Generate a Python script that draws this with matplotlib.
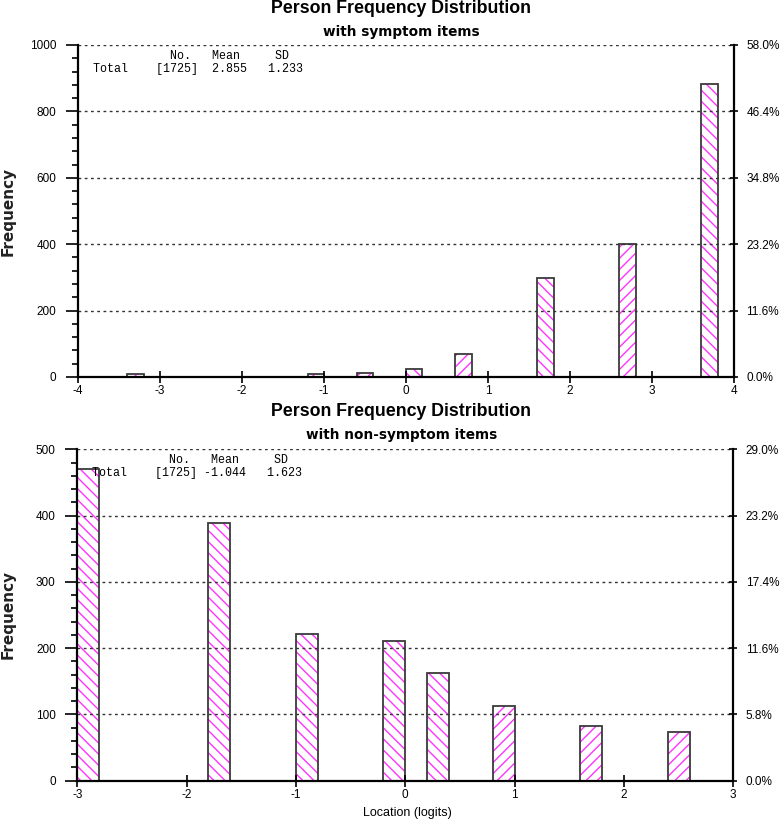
import matplotlib.pyplot as plt
from matplotlib.ticker import MultipleLocator

total = 1725

# person locations (bin centres, logits) and frequencies, with symptom items
symptom_loc = [-3.3, -1.1, -0.5, 0.1, 0.7, 1.7, 2.7, 3.7]
symptom_freq = [8, 8, 12, 25, 68, 297, 402, 884]
symptom_mean = "2.855"
symptom_sd = "1.233"

# with non-symptom items
nonsymptom_loc = [-2.9, -1.7, -0.9, -0.1, 0.3, 0.9, 1.7, 2.5]
nonsymptom_freq = [471, 389, 222, 211, 162, 113, 83, 74]
nonsymptom_mean = "-1.044"
nonsymptom_sd = "1.623"

plt.rcParams['font.family'] = ['Liberation Sans', 'DejaVu Sans']
plt.rcParams['hatch.linewidth'] = 1.0
plt.rcParams['axes.unicode_minus'] = False

PINK = '#ff33ff'
EDGE = '#3a3a3a'


def draw_panel(ax, loc, freq, hatches, xlim, ymax, ystep, mean, sd):
    bars = ax.bar(loc, freq, width=0.2, color='white', edgecolor=PINK, linewidth=0)
    for b, h in zip(bars, hatches):
        b.set_hatch(h * 3)
    ax.bar(loc, freq, width=0.2, fill=False, edgecolor=EDGE, linewidth=1.3)

    ax.set_xlim(xlim)
    ax.set_ylim(0, ymax)
    ax.xaxis.set_major_locator(MultipleLocator(1))
    ax.yaxis.set_major_locator(MultipleLocator(ystep))
    ax.yaxis.set_minor_locator(MultipleLocator(ystep / 5))
    ax.grid(axis='y', linestyle=(0, (2, 2.5)), color='#333333', linewidth=1)

    ax.spines['top'].set_visible(False)
    ax.spines['right'].set_visible(False)
    for s in ['left', 'bottom']:
        ax.spines[s].set_linewidth(1.6)
    ax.tick_params(axis='y', which='major', direction='out', length=8.5, width=1.2,
                   labelsize=8.5, pad=7)
    ax.tick_params(axis='y', which='minor', direction='out', length=4, width=1.2)
    ax.tick_params(axis='x', direction='inout', length=8, width=1.2, labelsize=8.5, pad=2)

    ax2 = ax.twinx()
    ax2.set_ylim(0, ymax)
    ticks = list(range(0, ymax + 1, ystep))
    ax2.set_yticks(ticks)
    ax2.set_yticklabels(['{:.1f}%'.format(t / total * 100) for t in ticks])
    ax2.spines['top'].set_visible(False)
    ax2.spines['left'].set_visible(False)
    ax2.spines['bottom'].set_visible(False)
    ax2.spines['right'].set_linewidth(1.6)
    ax2.tick_params(axis='y', direction='inout', length=6, width=1.2, labelsize=8.5, pad=6)

    mono = dict(family='Liberation Mono', fontsize=8.4, transform=ax.transAxes, va='center')
    ax.text(0.0225, 0.968, ' ' * 11 + 'No.   Mean     SD', **mono)
    ax.text(0.0225, 0.928, 'Total    [1725] {:>6}   {}'.format(mean, sd), **mono)


fig = plt.figure(figsize=(7.84, 8.24), dpi=100)
ax_top = fig.add_axes([0.0995, 0.5425, 0.8367, 0.4029])
ax_bot = fig.add_axes([0.0986, 0.0525, 0.8367, 0.4020])

draw_panel(ax_top, symptom_loc, symptom_freq,
           ['/', '/', '/', '\\', '/', '\\', '/', '\\'],
           (-4, 4), 1000, 200, symptom_mean, symptom_sd)
draw_panel(ax_bot, nonsymptom_loc, nonsymptom_freq,
           ['\\', '\\', '\\', '\\', '\\', '/', '/', '/'],
           (-3, 3), 500, 100, nonsymptom_mean, nonsymptom_sd)

title_kw = dict(ha='center', va='center', fontweight='bold', fontsize=12.8)
sub_kw = dict(ha='center', va='center', fontweight='bold', fontsize=9.8,
              family='DejaVu Sans')
fig.text(0.512, 0.990, 'Person Frequency Distribution', **title_kw)
fig.text(0.512, 0.961, 'with symptom items', **sub_kw)
fig.text(0.512, 0.5000, 'Person Frequency Distribution', **title_kw)
fig.text(0.512, 0.4715, 'with non-symptom items', **sub_kw)

ylab_kw = dict(ha='center', va='center', rotation=90, fontweight='bold',
               fontsize=11, family='DejaVu Sans', color='#222222')
fig.text(0.0105, 0.744, 'Frequency', **ylab_kw)
fig.text(0.0105, 0.254, 'Frequency', **ylab_kw)
fig.text(0.519, 0.013, 'Location (logits)', ha='center', va='center', fontsize=9)

fig.savefig('out.png', dpi=100)
